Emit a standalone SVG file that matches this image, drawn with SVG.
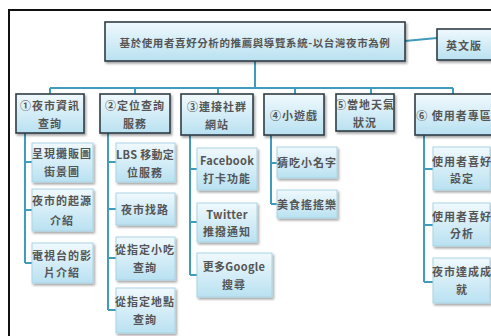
<svg xmlns="http://www.w3.org/2000/svg" width="491" height="336" viewBox="0 0 491 336">
<defs>
<linearGradient id="g" x1="0" y1="0" x2="0" y2="1">
<stop offset="0" stop-color="#f0f9fd"/>
<stop offset="1" stop-color="#b9e1f1"/>
</linearGradient>
<filter id="sh" x="-10%" y="-10%" width="130%" height="140%">
<feDropShadow dx="1.5" dy="2" stdDeviation="1.2" flood-color="#000" flood-opacity="0.35"/>
</filter>
</defs>
<style>
.main{fill:url(#g);stroke:#2f3d45;stroke-width:1.6;filter:url(#sh)}
.sub{fill:url(#g);stroke:#a9d3e4;stroke-width:1;filter:url(#sh)}
text{font-family:"Noto Sans CJK TC","Noto Sans CJK SC",sans-serif;font-weight:700;fill:#555;text-anchor:middle;dominant-baseline:central;font-size:11px;letter-spacing:1px}
.t{font-size:10.5px;letter-spacing:0.6px}
.n{letter-spacing:0.3px}
.c{fill:none;stroke:#3f9cbc;stroke-width:2}
</style>
<rect x="9" y="10" width="490" height="340" fill="#fff" stroke="#111" stroke-width="2"/>
<g id="connectors">
<path class="c" d="M255 61V88M50 88H453M50 88V94M135 88V94M218 88V94M295 88V94M371 88V94M453 88V94"/>
<path class="c" d="M405 41L437 38"/>
<path class="c" d="M25 133V263M25 162H33M25 210H33M25 263H33"/>
<path class="c" d="M108 133V310M108 162H116M108 209H116M108 258H116M108 310H116"/>
<path class="c" d="M190 135V275M190 169H197M190 222H197M190 275H197"/>
<path class="c" d="M271 135V204M271 163H277M271 204H277"/>
<path class="c" d="M424 135V282M424 169H433M424 225H433M424 282H433"/>
</g>
<g id="root"><rect class="main" x="105" y="22" width="300" height="39"/><text class="t" x="255" y="42">基於使用者喜好分析的推薦與導覽系統-以台灣夜市為例</text></g>
<g id="english"><rect class="main" x="437" y="29" width="58" height="31"/><text x="464" y="45">英文版</text></g>
<g id="n1"><rect class="main" x="16" y="94" width="68" height="39"/><text x="50" y="105">①夜市資訊</text><text x="50" y="123">查詢</text></g>
<g id="n2"><rect class="main" x="100" y="94" width="70" height="39"/><text x="135" y="105">②定位查詢</text><text x="135" y="123">服務</text></g>
<g id="n3"><rect class="main" x="181" y="94" width="72" height="41"/><text x="217" y="106">③連接社群</text><text x="217" y="124">網站</text></g>
<g id="n4"><rect class="main" x="264" y="94" width="60" height="41"/><text x="294" y="115">④小遊戲</text></g>
<g id="n5"><rect class="main" x="336" y="94" width="58" height="37"/><text x="365" y="104">⑤當地天氣</text><text x="365" y="122">狀況</text></g>
<g id="n6"><rect class="main" x="415" y="94" width="80" height="41"/><text x="454" y="115">⑥ 使用者專區</text></g>
<g id="n1a"><rect class="sub" x="32" y="143" width="61" height="39"/><text x="62" y="153">呈現攤販圖</text><text x="62" y="171">街景圖</text></g>
<g id="n1b"><rect class="sub" x="32" y="189" width="61" height="42"/><text x="62" y="200">夜市的起源</text><text x="62" y="220">介紹</text></g>
<g id="n1c"><rect class="sub" x="32" y="243" width="61" height="40"/><text x="62" y="255">電視台的影</text><text x="62" y="272">片介紹</text></g>
<g id="n2a"><rect class="sub" x="116" y="143" width="59" height="39"/><text class="n" x="145" y="154">LBS 移動定</text><text x="145" y="172">位服務</text></g>
<g id="n2b"><rect class="sub" x="116" y="193" width="59" height="32"/><text x="145" y="209">夜市找路</text></g>
<g id="n2c"><rect class="sub" x="116" y="237" width="59" height="43"/><text x="145" y="249">從指定小吃</text><text x="145" y="267">查詢</text></g>
<g id="n2d"><rect class="sub" x="116" y="288" width="59" height="45"/><text x="145" y="301">從指定地點</text><text x="145" y="319">查詢</text></g>
<g id="n3a"><rect class="sub" x="197" y="148" width="60" height="42"/><text class="n" x="227" y="160">Facebook</text><text x="227" y="178">打卡功能</text></g>
<g id="n3b"><rect class="sub" x="197" y="203" width="60" height="39"/><text class="n" x="227" y="214">Twitter</text><text x="227" y="231">推撥通知</text></g>
<g id="n3c"><rect class="sub" x="197" y="253" width="75" height="44"/><text class="n" x="234" y="266">更多Google</text><text x="234" y="284">搜尋</text></g>
<g id="n4a"><rect class="sub" x="277" y="147" width="60" height="31"/><text x="307" y="162">猜吃小名字</text></g>
<g id="n4b"><rect class="sub" x="277" y="190" width="60" height="28"/><text x="307" y="204">美食搖搖樂</text></g>
<g id="n6a"><rect class="sub" x="433" y="147" width="57" height="43"/><text x="462" y="161">使用者喜好</text><text x="462" y="178">設定</text></g>
<g id="n6b"><rect class="sub" x="433" y="203" width="57" height="43"/><text x="462" y="216">使用者喜好</text><text x="462" y="233">分析</text></g>
<g id="n6c"><rect class="sub" x="433" y="258" width="57" height="45"/><text x="462" y="271">夜市達成成</text><text x="462" y="289">就</text></g>
</svg>
